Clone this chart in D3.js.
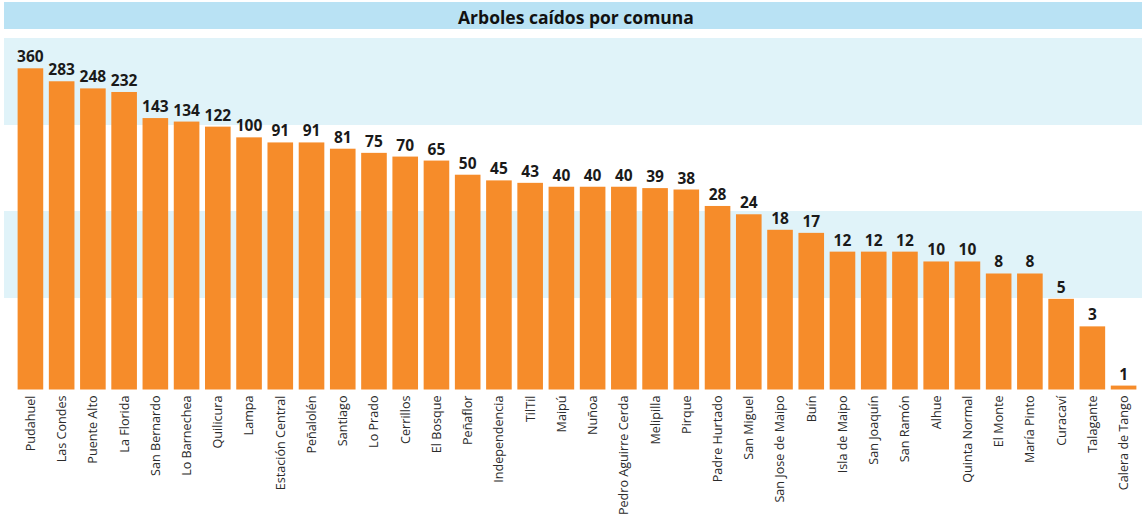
<!DOCTYPE html>
<html>
<head>
<meta charset="utf-8">
<script src="https://cdn.jsdelivr.net/npm/d3@7"></script>
<style>
  body { margin: 0; background: #fff; }
  svg { display: block; font-family: "Open Sans", "Noto Sans", sans-serif; }
</style>
</head>
<body>
<svg id="chart" width="1148" height="520"></svg>
<script>
// Arboles caídos por comuna
var comunas = ["Pudahuel", "Las Condes", "Puente Alto", "La Florida", "San Bernardo", "Lo Barnechea",
  "Quilicura", "Lampa", "Estación Central", "Peñalolén", "Santiago", "Lo Prado", "Cerrillos",
  "El Bosque", "Peñaflor", "Independencia", "TilTil", "Maipú", "Nuñoa", "Pedro Aguirre Cerda",
  "Melipilla", "Pirque", "Padre Hurtado", "San Miguel", "San Jose de Maipo", "Buín",
  "Isla de Maipo", "San Joaquín", "San Ramón", "Alhue", "Quinta Normal", "El Monte",
  "María Pinto", "Curacaví", "Talagante", "Calera de Tango"];
var arboles = [360, 283, 248, 232, 143, 134, 122, 100, 91, 91, 81, 75, 70, 65, 50, 45, 43, 40, 40,
  40, 39, 38, 28, 24, 18, 17, 12, 12, 12, 10, 10, 8, 8, 5, 3, 1];

var titulo = "Arboles caídos por comuna";

var svg = d3.select("#chart");

// title bar
svg.append("rect")
  .attr("x", 4).attr("y", 2)
  .attr("width", 1138).attr("height", 27)
  .attr("fill", "#b9e2f4");
svg.append("text")
  .attr("x", 576).attr("y", 24)
  .attr("text-anchor", "middle")
  .attr("font-size", 17.5)
  .attr("font-weight", "bold")
  .attr("fill", "#111")
  .text(titulo);

// background bands
svg.append("rect").attr("x", 4).attr("y", 38).attr("width", 1138).attr("height", 87).attr("fill", "#e0f3f9");
svg.append("rect").attr("x", 4).attr("y", 211).attr("width", 1138).attr("height", 87).attr("fill", "#e0f3f9");

var x = d3.scaleBand()
  .domain(comunas)
  .range([14.8, 1139.2])
  .paddingInner(0.18)
  .paddingOuter(0.09);

var y = d3.scaleLog()
  .domain([0.93, 360])
  .range([389.5, 68.3]);

svg.selectAll(".bar")
  .data(arboles)
  .join("rect")
  .attr("class", "bar")
  .attr("x", (d, i) => x(comunas[i]))
  .attr("y", (d) => y(d))
  .attr("width", x.bandwidth())
  .attr("height", (d) => y(0.93) - y(d))
  .attr("fill", "#f68c2a");

svg.selectAll(".val")
  .data(arboles)
  .join("text")
  .attr("class", "val")
  .attr("x", (d, i) => x(comunas[i]) + x.bandwidth() / 2)
  .attr("y", (d) => y(d) - 6)
  .attr("text-anchor", "middle")
  .attr("font-size", 15.5)
  .attr("font-weight", "bold")
  .attr("fill", "#1a1a1a")
  .text((d) => d);

// category labels
var xAxis = d3.axisBottom(x).tickSize(0).tickPadding(0);
var gx = svg.append("g")
  .attr("transform", "translate(0," + y(0.93) + ")")
  .call(xAxis);
gx.select(".domain").remove();
gx.selectAll("text")
  .attr("transform", "rotate(-90)")
  .attr("x", -6)
  .attr("y", 0)
  .attr("dy", "0.35em")
  .attr("text-anchor", "end")
  .attr("font-size", 12.6)
  .attr("font-family", "\"Open Sans\", sans-serif")
  .attr("fill", "#2b2b2b");
</script>
</body>
</html>
